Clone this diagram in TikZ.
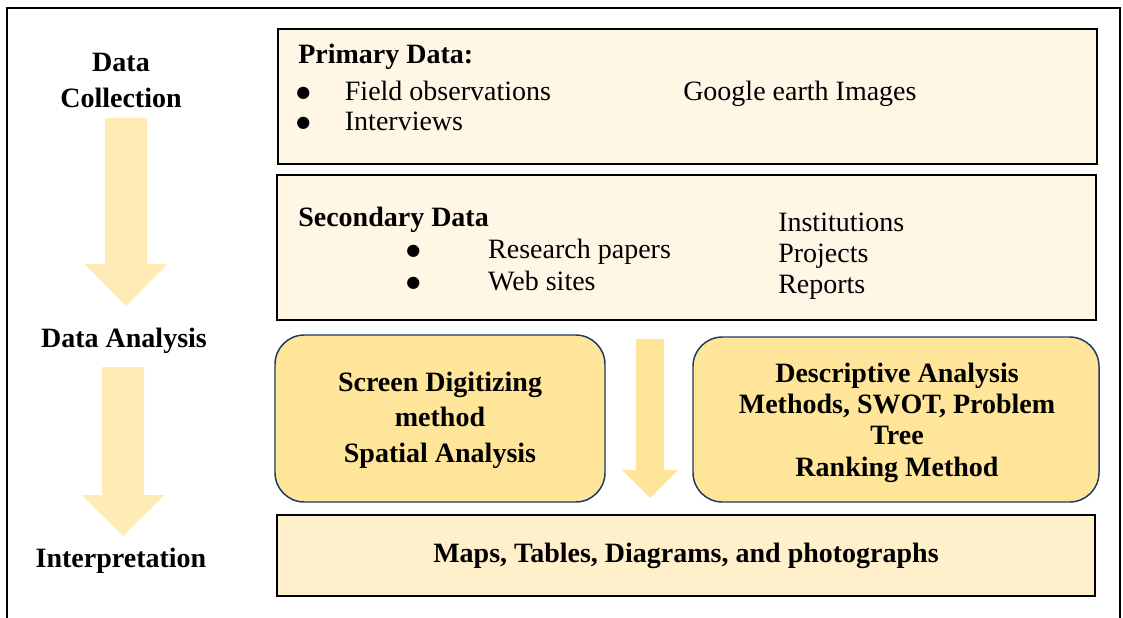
\documentclass[tikz,border=0pt]{standalone}
\usepackage{fontspec}
\setmainfont{Liberation Serif}
\newfontfamily\dejavu{DejaVu Sans}
\usepackage{xcolor}
\usepackage{tikz}
\usetikzlibrary{fit,positioning}
\definecolor{cream}{HTML}{FFF6E5}
\definecolor{sand}{HTML}{FFF0CB}
\definecolor{gold}{HTML}{FFE599}
\definecolor{palegold}{HTML}{FFEBB6}
\definecolor{navy}{HTML}{1F3864}
\newcommand{\itembullet}{\raisebox{2.2pt}{\dejavu\fontsize{12}{12}\selectfont ●}}

\tikzset{
  datbox/.style={draw=black,line width=1.2pt,fill=cream,inner sep=0pt},
  methbox/.style={draw=navy,line width=1.1pt,fill=gold,rounded corners=22pt,inner sep=0pt},
  stage/.style={font=\bfseries\fontsize{21}{27}\selectfont,align=center,anchor=base,inner sep=0pt},
  item/.style={font=\fontsize{21}{24}\selectfont,anchor=base west,inner sep=0pt},
  head/.style={font=\bfseries\fontsize{21}{24}\selectfont,anchor=base west,inner sep=0pt},
}

\begin{document}
\begin{tikzpicture}[x=0.75pt,y=-0.75pt]
  \useasboundingbox (0,0) rectangle (1123,617);
  \draw[line width=0.8pt] (7,8) rectangle (1120,650);

  % block arrows down the stages and between the method boxes
  \foreach \cx/\ya/\yb/\yc/\sw/\hw/\col in {126/118/264/306/21/41.5/palegold,123/367/495/536/21/41.5/palegold,650/339/470/498/14/28/gold}{
    \fill[\col] (\cx-\sw,\ya) -- (\cx+\sw,\ya) -- (\cx+\sw,\yb) -- (\cx+\hw,\yb) -- (\cx,\yc) -- (\cx-\hw,\yb) -- (\cx-\sw,\yb) -- cycle;
  }

  % stages (base = last line)
  \node[stage] (collect) at (121,107) {Data\\Collection};
  \node[stage] (analysis) at (124,347) {Data Analysis};
  \node[stage] (interp) at (121,567) {Interpretation};

  % data boxes
  \node[datbox,fit={(278,29) (1097,164)}] (primary) {};
  \node[datbox,fit={(277,175) (1096,320)}] (secondary) {};
  \node[datbox,fill=sand,fit={(277,515) (1095,596)}] (output) {};
  \node[methbox,fit={(275,335) (605,502)}] (spatial) {};
  \node[methbox,fit={(693,337) (1099,502)}] (descr) {};

  \node[head] (primhead) at (298,64) {Primary Data:};
  \node[item] (field) at (296,100) {\itembullet\hskip 26pt Field observations};
  \node[item] (interv) at (296,130) {\itembullet\hskip 26pt Interviews};
  \node[item] (google) at (683,100) {Google earth Images};

  \node[head] (sechead) at (298,226) {Secondary Data};
  \node[item] (papers) at (406,258) {\itembullet\hskip 51pt Research papers};
  \node[item] (web) at (406,290) {\itembullet\hskip 51pt Web sites};
  \node[item] (inst) at (778,231) {Institutions};
  \node[item] (proj) at (778,262) {Projects};
  \node[item] (rep) at (778,293) {Reports};

  \node[stage,font=\bfseries\fontsize{21}{26.6}\selectfont] (spattext) at (440,462) {Screen Digitizing\\method\\Spatial Analysis};
  \node[stage,font=\bfseries\fontsize{21}{23.3}\selectfont] (descrtext) at (897,476) {Descriptive Analysis\\Methods, SWOT, Problem\\Tree\\Ranking Method};
  \node[stage] (outtext) at (686,562) {Maps, Tables, Diagrams, and photographs};
\end{tikzpicture}
\end{document}
